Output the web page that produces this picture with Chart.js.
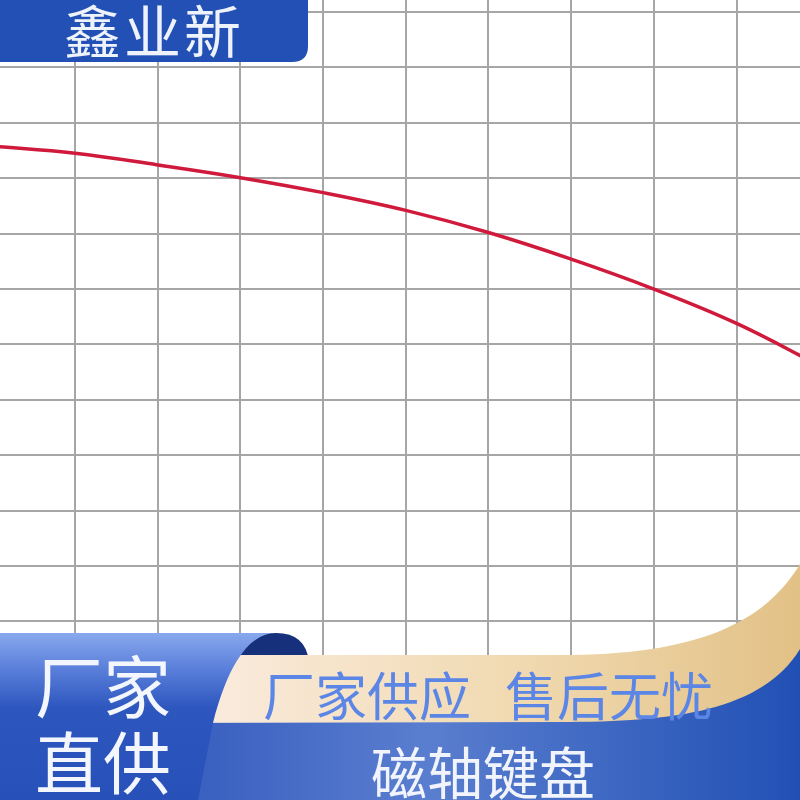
<!DOCTYPE html>
<html>
<head>
<meta charset="utf-8">
<script src="https://cdn.jsdelivr.net/npm/chart.js@4/dist/chart.umd.min.js"></script>
<style>
  body { margin: 0; background: #fff; }
  #wrap { position: relative; width: 800px; height: 800px; overflow: hidden; }
  #wrap canvas { position: absolute; left: 0; top: 0; }
  .txt {
    position: absolute; white-space: nowrap; line-height: 1;
    font-family: "Noto Sans CJK SC", "Noto Sans", sans-serif;
  }
</style>
</head>
<body>
<div id="wrap">
  <canvas id="curveChart" width="800" height="800"></canvas>
  <div class="txt" style="left:64px; top:0px; font-size:57px; letter-spacing:3px; color:#eef2fb;">鑫业新</div>
  <div class="txt" style="left:35px; top:650px; font-size:68px; color:#f3f6fd;">厂家</div>
  <div class="txt" style="left:35px; top:726px; font-size:68px; color:#f3f6fd;">直供</div>
  <div class="txt" style="left:263px; top:668px; font-size:52px; color:#5b86e6;">厂家供应</div>
  <div class="txt" style="left:505px; top:668px; font-size:52px; color:#5b86e6;">售后无忧</div>
  <div class="txt" style="left:371px; top:742px; font-size:56px; color:#f1f4fc;">磁轴键盘</div>
</div>
<script>
// curve (x = column line, y = row line counted from the bottom)
const xValues = [-1, 0, 1, 2, 3, 4, 5, 6, 7, 8, 9];
const yValues = [9.58, 9.45, 9.24, 9.01, 8.74, 8.42, 8.02, 7.54, 7.0, 6.38, 5.62];
const xTicks = [0, 1, 2, 3, 4, 5, 6, 7, 8];
const yTicks = [0, 1, 2, 3, 4, 5, 6, 7, 8, 9, 10, 11, 12];

// banners drawn over the grid
const bannerPlugin = {
    id: 'banners',
    afterDraw(chart) {
        const ctx = chart.ctx;
        ctx.save();

        // top-left label
        ctx.fillStyle = '#2350b5';
        ctx.beginPath();
        ctx.moveTo(0, 0);
        ctx.lineTo(308, 0);
        ctx.lineTo(308, 46);
        ctx.quadraticCurveTo(308, 62, 292, 62);
        ctx.lineTo(0, 62);
        ctx.closePath();
        ctx.fill();

        // navy curl behind the left block
        ctx.fillStyle = '#17307c';
        ctx.beginPath();
        ctx.moveTo(200, 700);
        ctx.lineTo(200, 633);
        ctx.lineTo(276, 633);
        ctx.quadraticCurveTo(306, 633, 309, 662);
        ctx.lineTo(309, 700);
        ctx.closePath();
        ctx.fill();

        // cream band
        let g = ctx.createLinearGradient(220, 0, 800, 0);
        g.addColorStop(0, '#f9eadb');
        g.addColorStop(0.5, '#f1dab2');
        g.addColorStop(1, '#e2c186');
        ctx.fillStyle = g;
        ctx.beginPath();
        ctx.moveTo(150, 655);
        ctx.lineTo(560, 655);
        ctx.bezierCurveTo(700, 655, 770, 622, 805, 555);
        ctx.lineTo(805, 800);
        ctx.lineTo(150, 800);
        ctx.closePath();
        ctx.fill();

        // blue bottom band
        g = ctx.createLinearGradient(200, 0, 800, 0);
        g.addColorStop(0, '#3a60c0');
        g.addColorStop(0.38, '#5a7ecf');
        g.addColorStop(1, '#2150b5');
        ctx.fillStyle = g;
        ctx.beginPath();
        ctx.moveTo(150, 723);
        ctx.lineTo(560, 722);
        ctx.bezierCurveTo(680, 722, 770, 710, 805, 640);
        ctx.lineTo(805, 800);
        ctx.lineTo(150, 800);
        ctx.closePath();
        ctx.fill();

        // left block with curled edge
        g = ctx.createLinearGradient(0, 633, 0, 800);
        g.addColorStop(0, '#89a8ec');
        g.addColorStop(0.2, '#5d82dc');
        g.addColorStop(0.45, '#2d56be');
        g.addColorStop(1, '#2850b9');
        ctx.fillStyle = g;
        ctx.beginPath();
        ctx.moveTo(0, 633);
        ctx.lineTo(276, 633);
        ctx.bezierCurveTo(246, 633, 226, 672, 213, 723);
        ctx.lineTo(198, 800);
        ctx.lineTo(0, 800);
        ctx.closePath();
        ctx.fill();

        ctx.restore();
    }
};

const ctx = document.getElementById('curveChart').getContext('2d');
new Chart(ctx, {
    type: 'line',
    data: {
        datasets: [{
            data: xValues.map((x, i) => ({ x: x, y: yValues[i] })),
            borderColor: '#d01a3b',
            borderWidth: 3.5,
            pointRadius: 0,
            tension: 0.4,
            fill: false
        }]
    },
    options: {
        responsive: false,
        animation: false,
        layout: { padding: 0 },
        plugins: { legend: { display: false }, tooltip: { enabled: false } },
        scales: {
            x: {
                type: 'linear',
                min: -0.907,
                max: 8.767,
                afterBuildTicks: (scale) => { scale.ticks = xTicks.map(v => ({ value: v })); },
                ticks: { display: false },
                grid: { color: '#a6a6a6', lineWidth: 2, drawTicks: false },
                border: { display: false }
            },
            y: {
                type: 'linear',
                min: -2.224,
                max: 12.217,
                afterBuildTicks: (scale) => { scale.ticks = yTicks.map(v => ({ value: v })); },
                ticks: { display: false },
                grid: { color: '#a6a6a6', lineWidth: 2, drawTicks: false },
                border: { display: false }
            }
        }
    },
    plugins: [bannerPlugin]
});
</script>
</body>
</html>
